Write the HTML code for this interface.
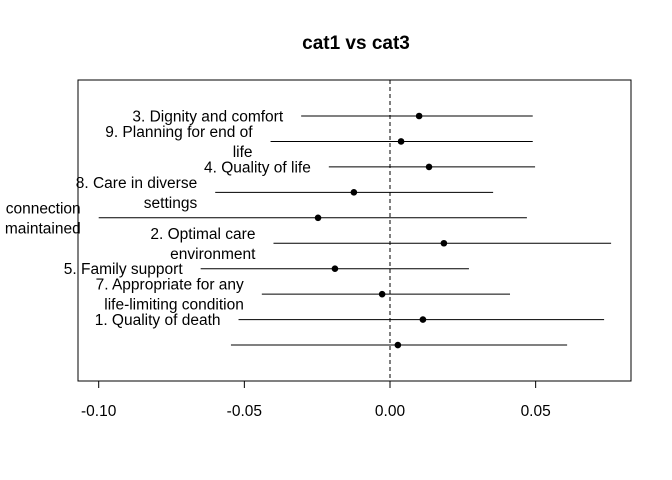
<!DOCTYPE html>
<html><head><meta charset="utf-8"><style>
html,body{margin:0;padding:0;background:#fff;}
svg{display:block;font-family:"Liberation Sans",Arial,sans-serif;}
</style></head><body>
<svg id="chart" width="672" height="480">
<text x="356" y="49" text-anchor="middle" font-size="19" font-weight="bold">cat1 vs cat3</text>
<rect x="78" y="80" width="553" height="301" fill="none" stroke="#000" stroke-width="1"/>
<g id="marks"></g>
<g id="axis"></g>
</svg>
<script>
const categories = ["3. Dignity and comfort","9. Planning for end of|life","4. Quality of life","8. Care in diverse|settings","connection|maintained","2. Optimal care|environment","5. Family support","7. Appropriate for any|life-limiting condition","1. Quality of death",""];
const estimates = [0.010,0.0038,0.0134,-0.0124,-0.0247,0.0185,-0.0189,-0.0027,0.0113,0.0027];
const lowerCI = [-0.0305,-0.041,-0.021,-0.060,-0.100,-0.040,-0.065,-0.044,-0.052,-0.0546];
const upperCI = [0.049,0.049,0.0498,0.0354,0.047,0.0759,0.0271,0.0412,0.0735,0.0608];
const tickValues = [-0.10,-0.05,0.00,0.05];
const tickLabels = ["-0.10","-0.05","0.00","0.05"];

const NS="http://www.w3.org/2000/svg";
function xs(v){return 390+v*2913;}
function ys(i){return 116+i*25.45;}
const marks=document.getElementById('marks');
const axis=document.getElementById('axis');
function mk(tag,attrs,parent){const e=document.createElementNS(NS,tag);for(const k in attrs)e.setAttribute(k,attrs[k]);parent.appendChild(e);return e;}

const ref=mk('line',{x1:xs(0),x2:xs(0),y1:80,y2:381,stroke:'#000','stroke-dasharray':'4,3'},marks);



categories.forEach((c,i)=>{
  const y=ys(i);
  const l=mk('line',{x1:xs(lowerCI[i]),x2:xs(upperCI[i]),y1:y,y2:y,stroke:'#000','stroke-width':1},marks);
  
  
  const p=mk('circle',{cx:xs(estimates[i]),cy:y,r:3.3,fill:'#000'},marks);
  
  
  if(c){
    const lines=c.split('|');
    const lh=20;
    const y0=y-(lines.length-1)*lh/2+5.5;
    lines.forEach((t,j)=>{
      const tx=mk('text',{x:xs(lowerCI[i])-18,y:y0+j*lh,'text-anchor':'end','font-size':15.5},marks);
      tx.textContent=t;
      
      
    });
  }
});

const ax=mk('line',{x1:xs(tickValues[0]),x2:xs(tickValues[tickValues.length-1]),y1:381,y2:381,stroke:'#000'},axis);


tickValues.forEach((v,i)=>{
  const t=mk('line',{x1:xs(v),x2:xs(v),y1:381,y2:388,stroke:'#000'},axis);
  
  
  const tl=mk('text',{x:xs(v),y:416,'text-anchor':'middle','font-size':15.5},axis);
  tl.textContent=tickLabels[i];
  
  
});
</script>
</body></html>
